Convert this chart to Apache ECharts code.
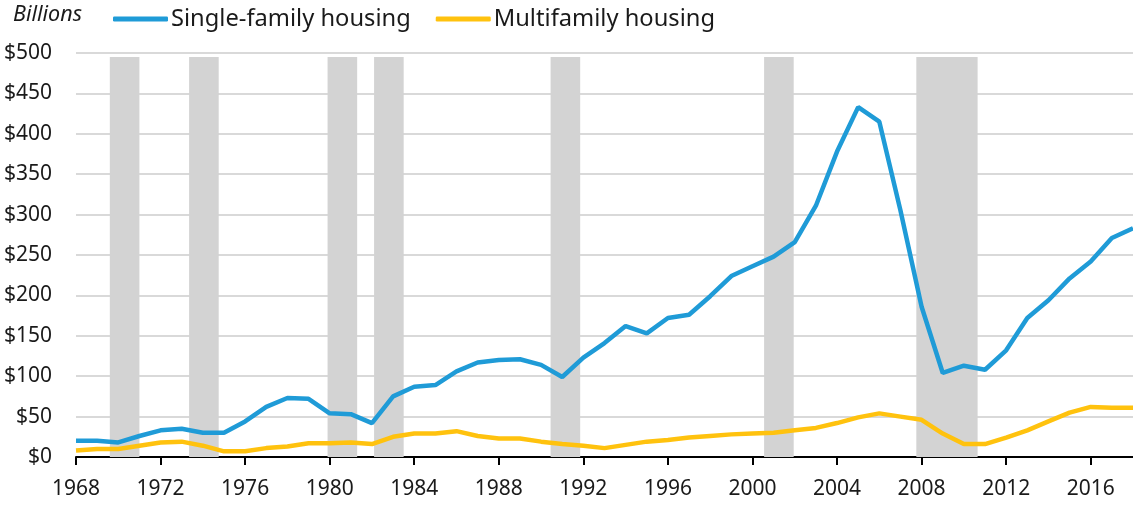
<!DOCTYPE html>
<html>
<head>
<meta charset="utf-8">
<script src="https://cdn.jsdelivr.net/npm/echarts@6/dist/echarts.min.js"></script>
<style>
  html, body { margin: 0; padding: 0; background: #fff; }
  #chart { width: 1133px; height: 505px; }
</style>
</head>
<body>
<div id="chart"></div>
<script>
// Annual residential construction spending, billions of dollars
const years = [];
for (let y = 1968; y <= 2018; y++) years.push(y);

const singleFamily = [
  20, 20, 18, 26, 33, 35, 30, 30, 44, 62,
  73, 72, 54, 53, 42, 75, 87, 89, 106, 117,
  120, 121, 114, 99, 123, 141, 162, 153, 172, 176,
  199, 224, 236, 248, 266, 311, 378, 433, 415, 305,
  186, 104, 113, 108, 132, 172, 194, 221, 242, 271,
  283
];

const multiFamily = [
  8, 10, 10, 14, 18, 19, 14, 7, 7, 11,
  13, 17, 17, 18, 16, 25, 29, 29, 32, 26,
  23, 23, 19, 16, 14, 11, 15, 19, 21, 24,
  26, 28, 29, 30, 33, 36, 42, 49, 54, 50,
  46, 29, 16, 16, 24, 33, 44, 55, 62, 61,
  61
];

// Recession periods (shaded), in fractional years
const recessions = [
  [1969.6, 1971.0],
  [1973.35, 1974.75],
  [1979.9, 1981.3],
  [1982.1, 1983.5],
  [1990.45, 1991.85],
  [2000.55, 2001.95],
  [2007.75, 2010.65]
];
const recessionTop = 495;

const xTicks = [1968, 1972, 1976, 1980, 1984, 1988, 1992, 1996, 2000, 2004, 2008, 2012, 2016];

const FONT = '"Noto Sans", "Open Sans", sans-serif';
const BLUE = '#1f9bd7';
const GOLD = '#ffc20e';

const chart = echarts.init(document.getElementById('chart'), null, { renderer: 'canvas' });

chart.setOption({
  animation: false,
  textStyle: { fontFamily: FONT },
  graphic: [{
    type: 'text',
    left: 13,
    top: 4,
    style: { text: 'Billions', fontFamily: FONT, fontSize: 21.5, fontStyle: 'italic', fill: '#1a1a1a' }
  }],
  legend: {
    left: 108,
    top: 2,
    itemWidth: 55,
    itemHeight: 5,
    itemGap: 25,
    icon: 'roundRect',
    textStyle: { fontFamily: FONT, fontSize: 23.7, color: '#1a1a1a', padding: [0, 0, 0, -2] },
    data: ['Single-family housing', 'Multifamily housing']
  },
  grid: { left: 76, right: -5.5, top: 53, bottom: 48 },
  xAxis: {
    type: 'value',
    min: 1968,
    max: 2018,
    axisLine: { show: true, lineStyle: { color: '#000', width: 2 } },
    axisTick: { show: true, length: 8, lineStyle: { color: '#000', width: 2 }, customValues: xTicks },
    axisLabel: { fontSize: 21, color: '#1a1a1a', margin: 22, customValues: xTicks, formatter: v => String(v) },
    splitLine: { show: false }
  },
  yAxis: {
    type: 'value',
    min: 0,
    max: 500,
    interval: 50,
    axisLine: { show: false },
    axisTick: { show: false },
    axisLabel: { fontSize: 21, color: '#1a1a1a', margin: 24, formatter: v => '$' + v },
    splitLine: { lineStyle: { color: '#d9d9d9', width: 2 } }
  },
  series: [
    {
      name: 'Single-family housing',
      type: 'line',
      data: years.map((y, i) => [y, singleFamily[i]]),
      symbol: 'none',
      lineStyle: { color: BLUE, width: 4.5 },
      itemStyle: { color: BLUE },
      z: 3,
      markArea: {
        silent: true,
        itemStyle: { color: '#d3d3d3' },
        data: recessions.map(r => [{ xAxis: r[0], yAxis: 0 }, { xAxis: r[1], yAxis: recessionTop }])
      }
    },
    {
      name: 'Multifamily housing',
      type: 'line',
      data: years.map((y, i) => [y, multiFamily[i]]),
      symbol: 'none',
      lineStyle: { color: GOLD, width: 4.5 },
      itemStyle: { color: GOLD },
      z: 3
    }
  ]
});
</script>
</body>
</html>
